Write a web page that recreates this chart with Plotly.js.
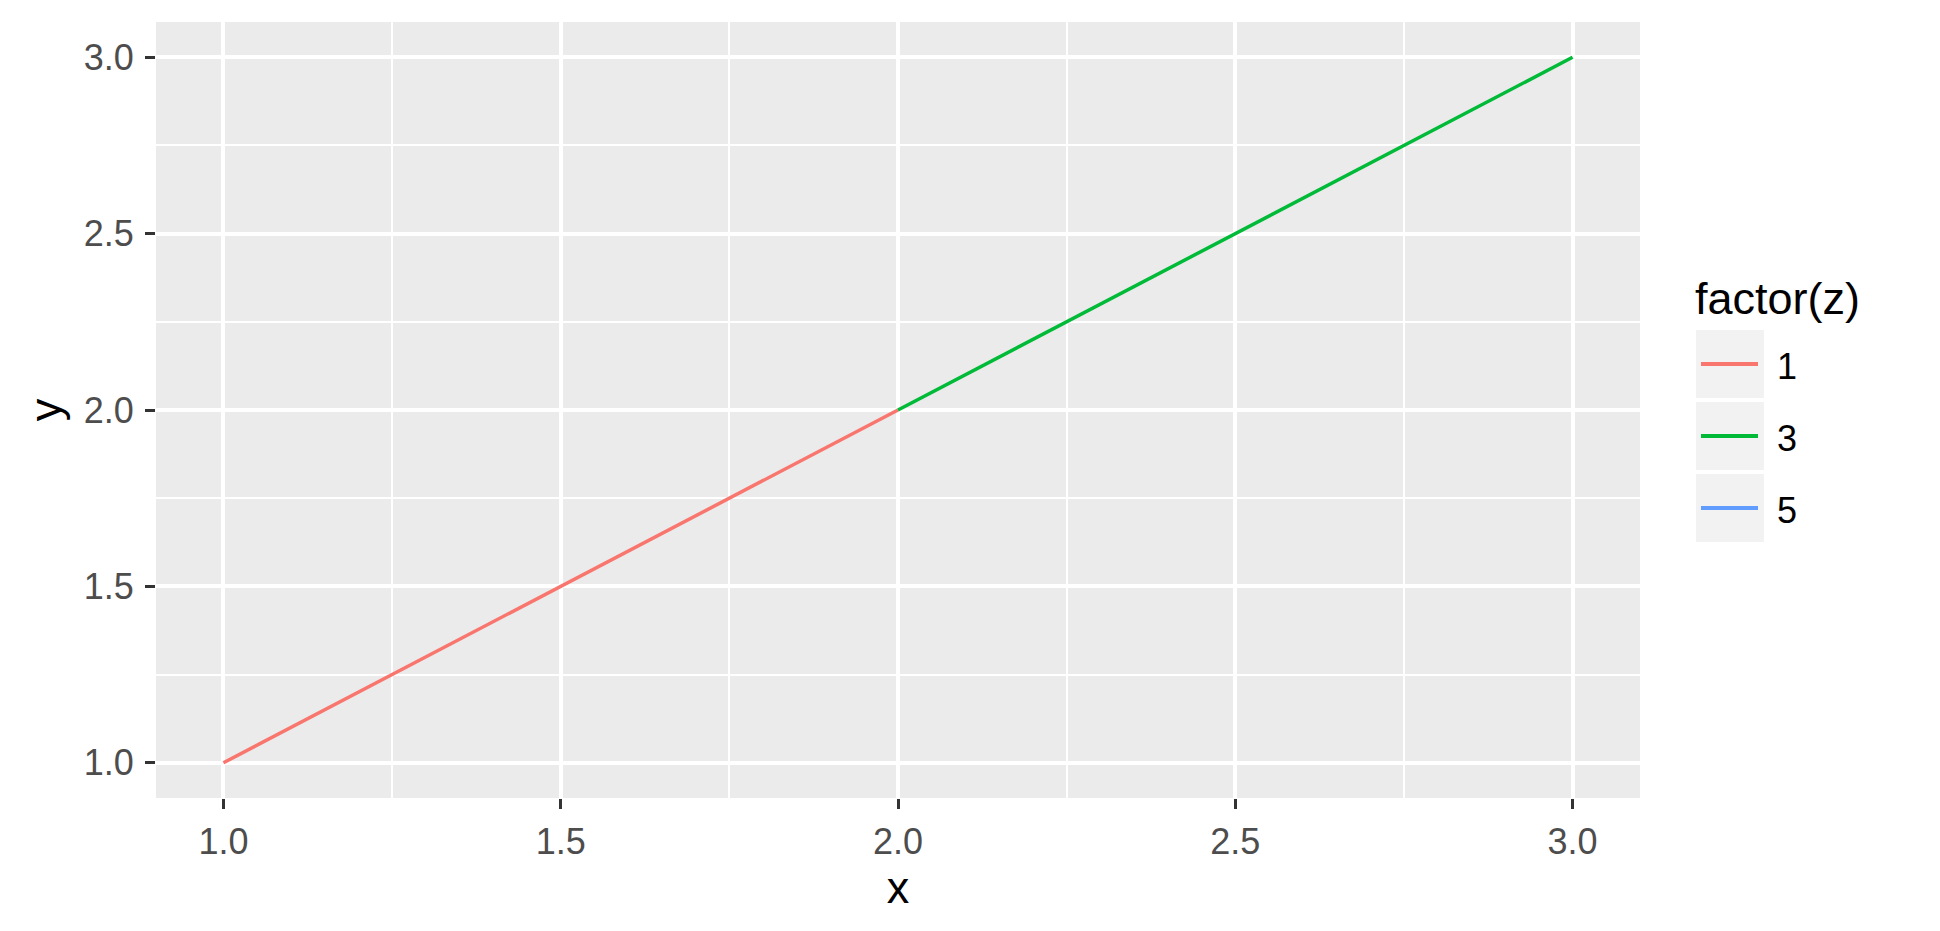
<!DOCTYPE html>
<html>
<head>
<meta charset="utf-8">
<script src="https://cdn.plot.ly/plotly-3.0.1.min.js"></script>
<style>html,body{margin:0;padding:0;background:#fff;}#chart{width:1940px;height:931px;}</style>
</head>
<body>
<div id="chart"></div>
<script>
// ---- data ----
const groups = ["1", "3", "5"];
const xs = [[1, 2], [2, 3], [3]];
const ys = [[1, 2], [2, 3], [3]];
const colors = ["#F8766D", "#00BA38", "#619CFF"];
const tickVals = [1.0, 1.5, 2.0, 2.5, 3.0];
const tickText = ["1.0", "1.5", "2.0", "2.5", "3.0"];
const legendTitle = "factor(z)";

// ---- layout geometry (pixels) ----
const W = 1940, H = 931;
const L = 156, R = 1640, T = 22, B = 798;
const px = v => (v - L) / (R - L);
const py = v => (B - v) / (B - T);
const FONT = "Liberation Sans, Arial, sans-serif";

const traces = groups.map((g, i) => ({
  x: xs[i], y: ys[i], type: "scatter", mode: "lines", name: g,
  line: {color: colors[i], width: 3.5}, showlegend: false, hoverinfo: "x+y"
}));

const shapes = [];
const annotations = [];
// legend title
annotations.push({xref: "paper", yref: "paper", x: px(1693), y: py(299), xanchor: "left", yanchor: "middle",
  text: legendTitle, showarrow: false, font: {family: FONT, size: 45, color: "#000"}});
const keyTop0 = 330, keyH = 68, keyGap = 4, keyL = 1696, keyR = 1764;
groups.forEach((g, i) => {
  const top = keyTop0 + i * (keyH + keyGap);
  const cy = top + keyH / 2;
  shapes.push({type: "rect", xref: "paper", yref: "paper", x0: px(keyL), x1: px(keyR), y0: py(top + keyH), y1: py(top),
    fillcolor: "#F2F2F2", line: {width: 0}, layer: "below"});
  shapes.push({type: "line", xref: "paper", yref: "paper", x0: px(1701), x1: px(1758), y0: py(cy), y1: py(cy),
    line: {color: colors[i], width: 4}});
  annotations.push({xref: "paper", yref: "paper", x: px(1775), y: py(cy + 2), xanchor: "left", yanchor: "middle",
    text: g, showarrow: false, font: {family: FONT, size: 36, color: "#000"}});
});

const axisCommon = {
  range: [0.9, 3.1], tickvals: tickVals, ticktext: tickText,
  showgrid: true, gridcolor: "#FFFFFF", gridwidth: 4, zeroline: false, showline: false,
  ticks: "outside", ticklen: 10, tickwidth: 3, tickcolor: "#333333",
  tickfont: {family: FONT, size: 36, color: "#4D4D4D"},
  minor: {dtick: 0.25, tick0: 0, showgrid: true, gridcolor: "#FFFFFF", gridwidth: 2},
  fixedrange: true
};

const layout = {
  width: W, height: H,
  margin: {l: L, r: W - R, t: T, b: H - B, pad: 0},
  paper_bgcolor: "#FFFFFF", plot_bgcolor: "#EBEBEB",
  font: {family: FONT},
  showlegend: false,
  xaxis: Object.assign({}, axisCommon, {
    title: {text: "x", font: {family: FONT, size: 45, color: "#000"}, standoff: 5},
    ticklabelstandoff: 2
  }),
  yaxis: Object.assign({}, axisCommon, {
    title: {text: "y", font: {family: FONT, size: 45, color: "#000"}, standoff: 8},
    ticklabelstandoff: 4
  }),
  shapes: shapes,
  annotations: annotations
};

Plotly.newPlot("chart", traces, layout, {displayModeBar: false, staticPlot: true});
</script>
</body>
</html>
